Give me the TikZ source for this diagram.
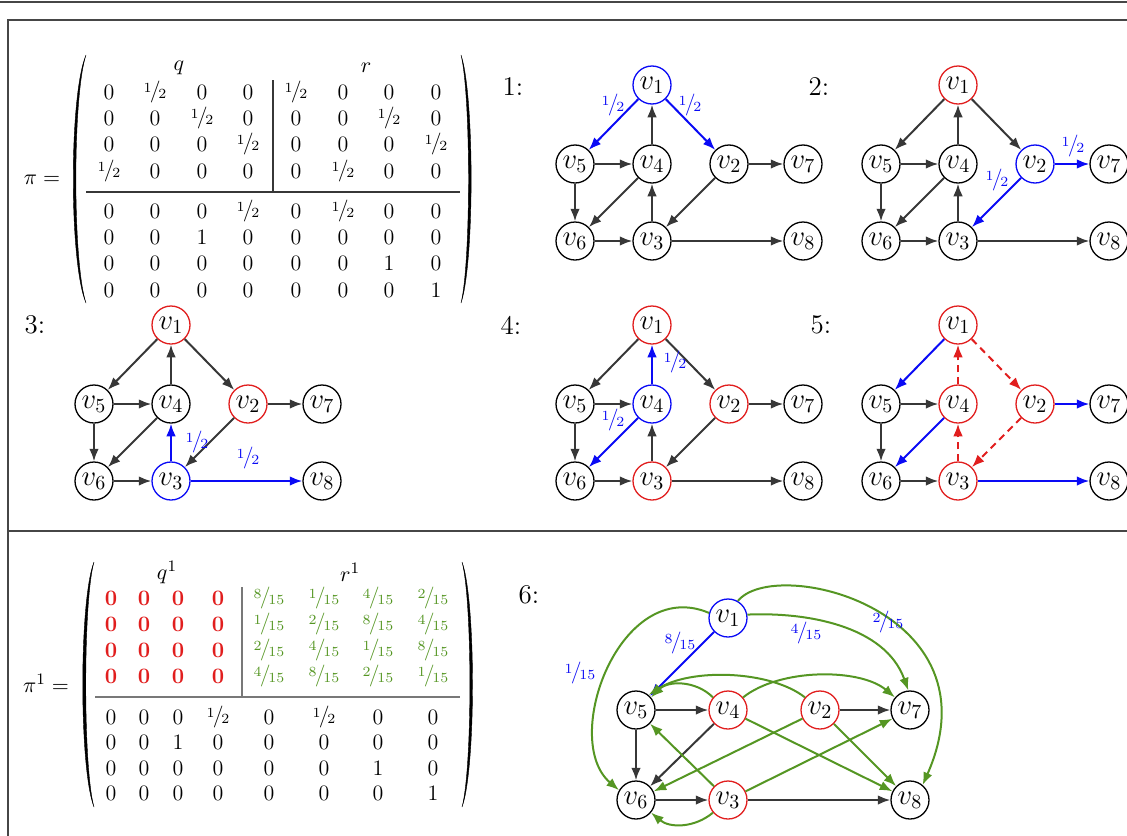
\documentclass[tikz,border=0pt]{standalone}
\usetikzlibrary{arrows.meta}
\definecolor{gblue}{RGB}{10,10,245}
\definecolor{gred}{RGB}{225,30,30}
\definecolor{ggreen}{RGB}{85,150,35}
\definecolor{gedge}{RGB}{55,55,55}
\definecolor{gframe}{RGB}{70,70,70}
\definecolor{gline}{RGB}{120,120,120}
\newcommand{\nfr}[2]{\raisebox{0.55ex}{\scriptsize #1}\kern-0.08em/\kern-0.1em\raisebox{-0.15ex}{\scriptsize #2}}
\newcommand{\hh}{\nfr{1}{2}}
\newcommand{\rz}{\textcolor{gred}{\textbf{0}}}
\newcommand{\gf}[2]{\textcolor{ggreen}{\nfr{#1}{#2}}}
\newcommand{\placenodes}[5]{%
  \node[vn,#2] (#1-1) at (0,0) {$v_1$};
  \node[vn,#3] (#1-2) at (77,79) {$v_2$};
  \node[vn,#4] (#1-3) at (0,156) {$v_3$};
  \node[vn,#5] (#1-4) at (0,79) {$v_4$};
  \node[vn] (#1-5) at (-77,79) {$v_5$};
  \node[vn] (#1-6) at (-77,156) {$v_6$};
  \node[vn] (#1-7) at (151,79) {$v_7$};
  \node[vn] (#1-8) at (151,156) {$v_8$};}
\newcommand{\gedges}[1]{%
  \draw[e15] (#1-1) -- (#1-5);
  \draw[e12] (#1-1) -- (#1-2);
  \draw[e41] (#1-4) -- (#1-1);
  \draw[e54] (#1-5) -- (#1-4);
  \draw[e56] (#1-5) -- (#1-6);
  \draw[e46] (#1-4) -- (#1-6);
  \draw[e34] (#1-3) -- (#1-4);
  \draw[e23] (#1-2) -- (#1-3);
  \draw[e27] (#1-2) -- (#1-7);
  \draw[e63] (#1-6) -- (#1-3);
  \draw[e38] (#1-3) -- (#1-8);}
\begin{document}
\begin{tikzpicture}[x=0.5pt,y=-0.5pt,
  vn/.style={circle,draw=black,line width=0.65pt,minimum size=19pt,inner sep=0pt,fill=white,font=\fontsize{14.4}{17}\selectfont},
  vb/.style={draw=gblue}, vr/.style={draw=gred},
  arr/.style={-{Latex[length=6.3pt,width=4.8pt]},line width=1pt},
  ek/.style={arr,color=gedge},
  eblu/.style={arr,color=gblue},
  ered/.style={arr,color=gred,dash pattern=on 3.5pt off 2.5pt},
  egr/.style={arr,color=ggreen},
  e15/.style={ek}, e12/.style={ek}, e41/.style={ek}, e54/.style={ek},
  e56/.style={ek}, e46/.style={ek}, e34/.style={ek}, e23/.style={ek},
  e27/.style={ek}, e63/.style={ek}, e38/.style={ek},
  elab/.style={text=gblue,inner sep=0pt,font=\fontsize{11}{13}\selectfont},
  ment/.style={inner sep=0pt,font=\fontsize{11}{13}\selectfont},
  mhead/.style={inner sep=0pt,font=\fontsize{11}{13}\selectfont},
  plab/.style={font=\fontsize{13.5}{16}\selectfont,inner sep=0pt},
  frm/.style={draw=gframe,line width=1pt},
  paren/.style={fill=black,draw=black,line width=0.2pt},
  mline/.style={draw=gedge,line width=0.6pt},
  mline2/.style={draw=gline,line width=0.6pt}]
\useasboundingbox (0,0) rectangle (1127,835);
\clip (0,0) rectangle (1127,835);
% frame
\draw[frm] (0,2) -- (1127,2);
\draw[frm] (8,850) -- (8,20) -- (1140,20);
\draw[frm] (8,531) -- (1140,531);

% ---------- matrix pi ----------
\node[mhead] (pieq) at (42,180) {$\pi =$};
\path[paren] (86,55) .. controls (69,95) and (69,263) .. (86,303)
   .. controls (72.5,263) and (72.5,95) .. (86,55) -- cycle;
\path[paren] (461,55) .. controls (474.5,95) and (474.5,263) .. (461,303)
   .. controls (471,263) and (471,95) .. (461,55) -- cycle;
\node[mhead] (lq) at (179,68) {$q$};
\node[mhead] (lr) at (366,68) {$r$};
\draw[mline] (273,80) -- (273,192);
\draw[mline] (86,192) -- (460,192);
\foreach \r [count=\i] in {{0,\hh,0,0,\hh,0,0,0},{0,0,\hh,0,0,0,\hh,0},{0,0,0,\hh,0,0,0,\hh},{\hh,0,0,0,0,\hh,0,0},{0,0,0,\hh,0,\hh,0,0},{0,0,1,0,0,0,0,0},{0,0,0,0,0,0,1,0},{0,0,0,0,0,0,0,1}}{
  \foreach \e [count=\j] in \r {
    \pgfmathsetmacro{\cx}{{109,155,202,248,296,343,389,436}[\j-1]}
    \pgfmathsetmacro{\cy}{{92,118,144,171,211,237,263,290}[\i-1]}
    \node[ment] (pa-\i-\j) at (\cx,\cy) {\e};
  }
}

% ---------- matrix pi^1 ----------
\node[mhead] (pi1eq) at (46,683) {$\pi^1 =$};
\path[paren] (94,562) .. controls (79,600) and (79,769) .. (94,807)
   .. controls (83,769) and (83,600) .. (94,562) -- cycle;
\path[paren] (462,562) .. controls (476,600) and (476,769) .. (462,807)
   .. controls (472.5,769) and (472.5,600) .. (462,562) -- cycle;
\node[mhead] (lq1) at (167,572) {$q^1$};
\node[mhead] (lr1) at (350,572) {$r^1$};
\draw[mline2] (242,587) -- (242,697);
\draw[mline2] (95,697) -- (460,697);
\foreach \r [count=\i] in {{\rz,\rz,\rz,\rz,\gf{8}{15},\gf{1}{15},\gf{4}{15},\gf{2}{15}},{\rz,\rz,\rz,\rz,\gf{1}{15},\gf{2}{15},\gf{8}{15},\gf{4}{15}},{\rz,\rz,\rz,\rz,\gf{2}{15},\gf{4}{15},\gf{1}{15},\gf{8}{15}},{\rz,\rz,\rz,\rz,\gf{4}{15},\gf{8}{15},\gf{2}{15},\gf{1}{15}},{0,0,0,\hh,0,\hh,0,0},{0,0,1,0,0,0,0,0},{0,0,0,0,0,0,1,0},{0,0,0,0,0,0,0,1}}{
  \foreach \e [count=\j] in \r {
    \pgfmathsetmacro{\cx}{{111,144,178,218,269,324,378,433}[\j-1]}
    \pgfmathsetmacro{\cy}{{598,624,650,676,717,742,768,793}[\i-1]}
    \node[ment] (pb-\i-\j) at (\cx,\cy) {\e};
  }
}

% ---------- panel labels ----------
\node[plab] (t1) at (513,87) {1:};
\node[plab] (t2) at (819,87) {2:};
\node[plab] (t3) at (35,325) {3:};
\node[plab] (t4) at (511,325) {4:};
\node[plab] (t5) at (821,325) {5:};
\node[plab] (t6) at (529,595) {6:};

% ---------- panel 1 ----------
\begin{scope}[shift={(652,85)}, e15/.style={eblu}, e12/.style={eblu}]
  \placenodes{a}{vb}{}{}{}
  \gedges{a}
\end{scope}
\node[elab] (la1) at (613,105) {\hh};
\node[elab] (la2) at (690,105) {\hh};

% ---------- panel 2 ----------
\begin{scope}[shift={(958,85)}, e27/.style={eblu}, e23/.style={eblu}]
  \placenodes{b}{vr}{vb}{}{}
  \gedges{b}
\end{scope}
\node[elab] (lb1) at (1073,146) {\hh};
\node[elab] (lb2) at (997,180) {\hh};

% ---------- panel 3 ----------
\begin{scope}[shift={(171,325)}, e34/.style={eblu}, e38/.style={eblu}]
  \placenodes{c}{vr}{vr}{vb}{}
  \gedges{c}
\end{scope}
\node[elab] (lc1) at (197,442) {\hh};
\node[elab] (lc2) at (248,458) {\hh};

% ---------- panel 4 ----------
\begin{scope}[shift={(652,325)}, e41/.style={eblu}, e46/.style={eblu}]
  \placenodes{d}{vr}{vr}{vr}{vb}
  \gedges{d}
\end{scope}
\node[elab] (ld1) at (675,362) {\hh};
\node[elab] (ld2) at (613,420) {\hh};

% ---------- panel 5 ----------
\begin{scope}[shift={(958,325)}, e15/.style={eblu}, e46/.style={eblu}, e27/.style={eblu}, e38/.style={eblu},
  e12/.style={ered}, e41/.style={ered}, e23/.style={ered}, e34/.style={ered}]
  \placenodes{e}{vr}{vr}{vr}{vr}
  \gedges{e}
\end{scope}

% ---------- panel 6 ----------
\node[vn,vb] (f-1) at (728,618) {$v_1$};
\node[vn] (f-5) at (636,710) {$v_5$};
\node[vn,vr] (f-4) at (728,710) {$v_4$};
\node[vn,vr] (f-2) at (820,710) {$v_2$};
\node[vn] (f-7) at (910,710) {$v_7$};
\node[vn] (f-6) at (636,800) {$v_6$};
\node[vn,vr] (f-3) at (728,800) {$v_3$};
\node[vn] (f-8) at (910,800) {$v_8$};
\draw[ek] (f-5) -- (f-4);
\draw[ek] (f-5) -- (f-6);
\draw[ek] (f-4) -- (f-6);
\draw[ek] (f-2) -- (f-7);
\draw[ek] (f-6) -- (f-3);
\draw[ek] (f-3) -- (f-8);
\draw[eblu] (f-1) -- (f-5);
\draw[egr] (f-1.165) .. controls (620,575) and (560,740) .. (f-6.150);
\draw[egr] (f-1.10) .. controls (805,612) and (885,625) .. (f-7.95);
\draw[egr] (f-1.60) .. controls (775,555) and (1000,610) .. (f-8.50);
\draw[egr] (f-4.140) to[bend right=45] (f-5.40);
\draw[egr] (f-2.140) .. controls (770,670) and (690,668) .. (f-5.50);
\draw[egr] (f-4.40) .. controls (780,668) and (860,668) .. (f-7.140);
\draw[egr] (f-3.220) to[bend left=40] (f-6.-40);
\draw[egr] (f-4) -- (f-8);
\draw[egr] (f-2) -- (f-6);
\draw[egr] (f-2) -- (f-8);
\draw[egr] (f-3) -- (f-5);
\draw[egr] (f-3) -- (f-7);
\node[elab] (lf1) at (680,643) {\nfr{8}{15}};
\node[elab] (lf2) at (806,633) {\nfr{4}{15}};
\node[elab] (lf3) at (888,622) {\nfr{2}{15}};
\node[elab] (lf4) at (580,673) {\nfr{1}{15}};
\end{tikzpicture}
\end{document}
